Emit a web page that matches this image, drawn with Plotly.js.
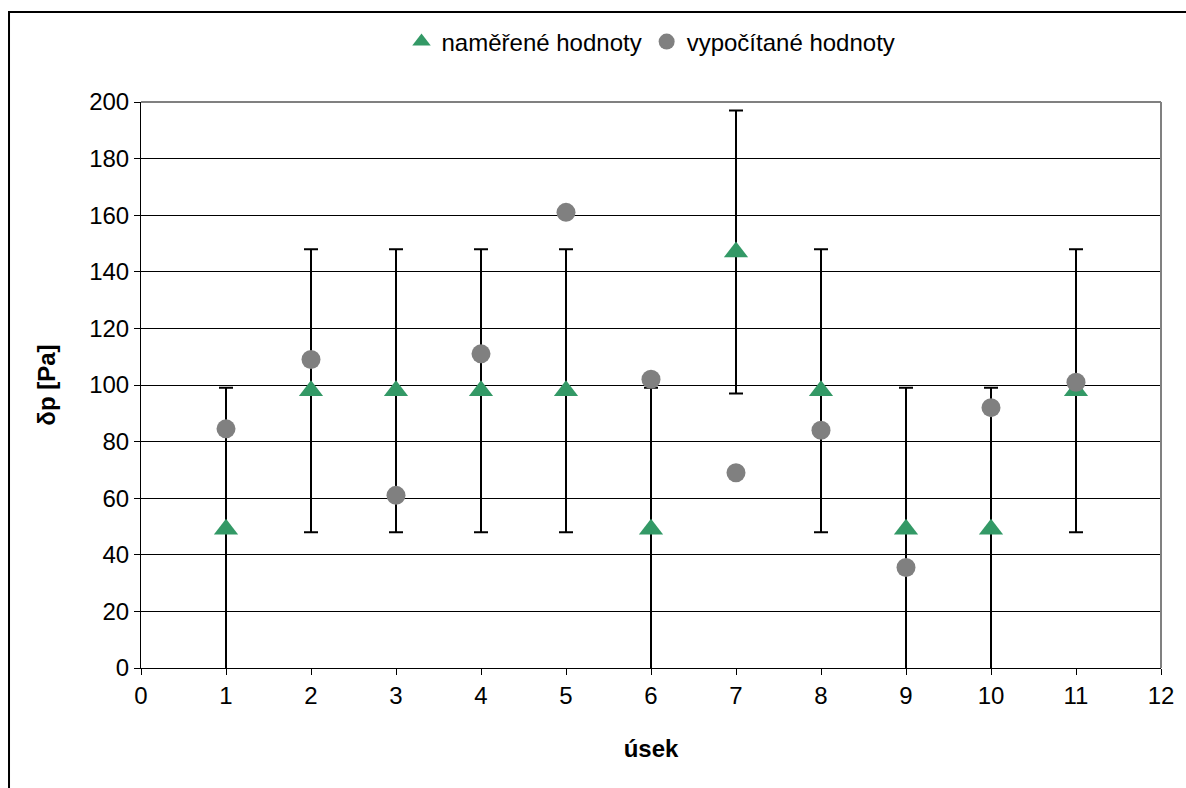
<!DOCTYPE html>
<html>
<head>
<meta charset="utf-8">
<script src="https://cdn.plot.ly/plotly-3.0.1.min.js"></script>
<style>
html,body{margin:0;padding:0;background:#fff;}
#chart{width:1186px;height:788px;}
</style>
</head>
<body>
<div id="chart"></div>
<script>
// data
const useky = [1, 2, 3, 4, 5, 6, 7, 8, 9, 10, 11];
const namereneHodnoty = [49, 98, 98, 98, 98, 49, 147, 98, 49, 49, 98];
const chybaMereni = [50, 50, 50, 50, 50, 50, 50, 50, 50, 50, 50];
const vypocitaneHodnoty = [84.5, 109, 61, 111, 161, 102, 69, 84, 35.5, 92, 101];
const xTicks = [0, 1, 2, 3, 4, 5, 6, 7, 8, 9, 10, 11, 12];
const yTicks = [0, 20, 40, 60, 80, 100, 120, 140, 160, 180, 200];

const FONT = 'Liberation Sans, Arial, sans-serif';
const FS = 24;

const traces = [
  {
    x: useky, y: namereneHodnoty, type: 'scatter', mode: 'markers',
    name: 'naměřené hodnoty', cliponaxis: false,
    marker: {symbol: 'triangle-up', size: 21, color: '#339966'},
    error_y: {type: 'data', array: chybaMereni, visible: true, color: '#000000', thickness: 2, width: 7}
  },
  {
    x: useky, y: vypocitaneHodnoty, type: 'scatter', mode: 'markers',
    name: 'vypočítané hodnoty', cliponaxis: false,
    marker: {symbol: 'circle', size: 19, color: '#808080'}
  }
];

const layout = {
  width: 1186, height: 788,
  margin: {l: 141, r: 25, t: 102, b: 120},
  paper_bgcolor: '#ffffff', plot_bgcolor: '#ffffff',
  font: {family: FONT, size: FS, color: '#000'},
  showlegend: true,
  legend: {orientation: 'h', x: 0.5, xanchor: 'center', y: 1.106, yanchor: 'middle',
           font: {family: FONT, size: FS, color: '#000'}, itemwidth: 30, tracegroupgap: 0},
  xaxis: {
    range: [0, 12], tickmode: 'array', tickvals: xTicks, ticktext: xTicks.map(String),
    showgrid: false, zeroline: false, showline: true, linecolor: '#000', linewidth: 1,
    ticks: 'outside', ticklen: 6, tickcolor: '#000', tickwidth: 1,
    tickfont: {family: FONT, size: FS, color: '#000'},
    title: {text: '<b>úsek</b>', font: {family: FONT, size: FS, color: '#000'}, standoff: 32}
  },
  yaxis: {
    range: [0, 200], tickmode: 'array', tickvals: yTicks, ticktext: yTicks.map(String),
    showgrid: true, gridcolor: '#000', gridwidth: 1, zeroline: false,
    showline: true, linecolor: '#000', linewidth: 1,
    ticks: 'outside', ticklen: 6, tickcolor: '#000', tickwidth: 1,
    tickfont: {family: FONT, size: FS, color: '#000'},
    title: {text: '<b>δp [Pa]</b>', font: {family: FONT, size: FS, color: '#000'}, standoff: 26}
  },
  shapes: [
    {type: 'line', xref: 'paper', yref: 'paper', x0: 0, x1: 1, y0: 1, y1: 1, line: {color: '#808080', width: 2}},
    {type: 'line', xref: 'paper', yref: 'paper', x0: 1, x1: 1, y0: 0, y1: 1, line: {color: '#808080', width: 2}},
    {type: 'rect', xref: 'paper', yref: 'paper', x0: -0.1294, x1: 1.05, y0: -0.25, y1: 1.159,
     line: {color: '#000', width: 2}, fillcolor: 'rgba(0,0,0,0)'}
  ]
};

Plotly.newPlot('chart', traces, layout, {displayModeBar: false, staticPlot: true});
</script>
</body>
</html>
